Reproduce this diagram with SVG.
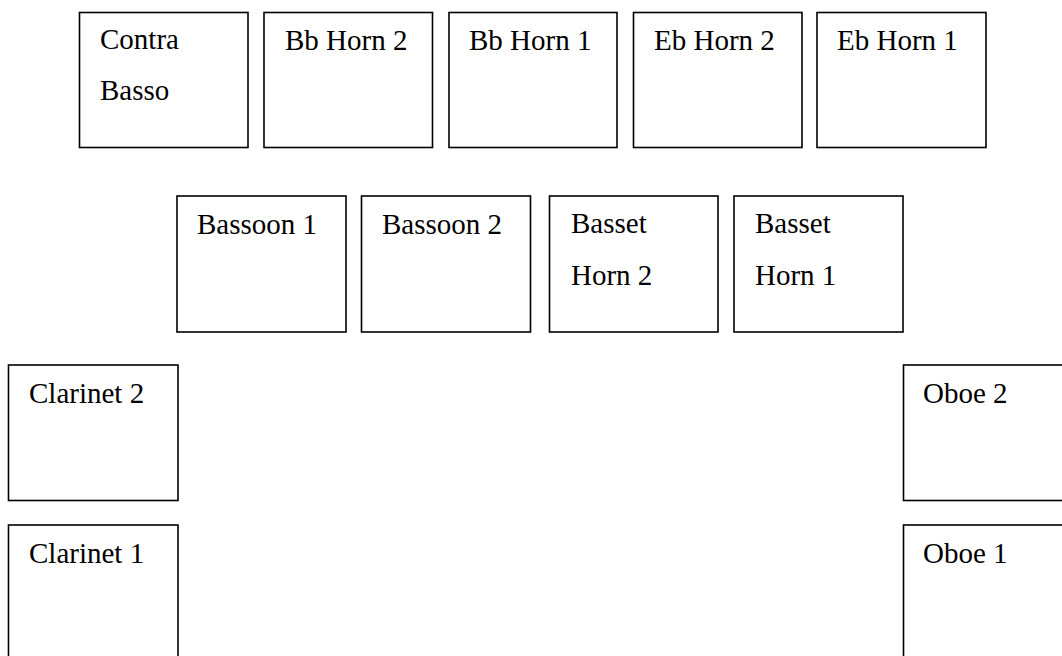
<svg xmlns="http://www.w3.org/2000/svg" width="1062" height="656" viewBox="0 0 1062 656">
<style>
.box{fill:#fff;stroke:#000;stroke-width:1.6}
.t{font-family:"Liberation Serif","Times New Roman",serif;font-size:29px;fill:#000}
</style>
<rect width="1062" height="656" fill="#fff"/>
<g id="contra-basso"><rect class="box" x="79.5" y="12.5" width="168.5" height="135"/><text class="t" x="100" y="49">Contra</text><text class="t" x="100" y="100">Basso</text></g>
<g id="bb-horn-2"><rect class="box" x="264" y="12.5" width="168.5" height="135"/><text class="t" x="285" y="50">Bb Horn 2</text></g>
<g id="bb-horn-1"><rect class="box" x="449" y="12.5" width="168" height="135"/><text class="t" x="469" y="50">Bb Horn 1</text></g>
<g id="eb-horn-2"><rect class="box" x="633.5" y="12.5" width="168.5" height="135"/><text class="t" x="654" y="50">Eb Horn 2</text></g>
<g id="eb-horn-1"><rect class="box" x="817" y="12.5" width="169" height="135"/><text class="t" x="837" y="50">Eb Horn 1</text></g>
<g id="bassoon-1"><rect class="box" x="177" y="196" width="169" height="136"/><text class="t" x="197" y="234">Bassoon 1</text></g>
<g id="bassoon-2"><rect class="box" x="361.5" y="196" width="169" height="136"/><text class="t" x="382" y="234">Bassoon 2</text></g>
<g id="basset-horn-2"><rect class="box" x="549.5" y="196" width="168.5" height="136"/><text class="t" x="571" y="233">Basset</text><text class="t" x="571" y="285">Horn 2</text></g>
<g id="basset-horn-1"><rect class="box" x="734" y="196" width="169" height="136"/><text class="t" x="755" y="233">Basset</text><text class="t" x="755" y="285">Horn 1</text></g>
<g id="clarinet-2"><rect class="box" x="8.5" y="365" width="169.5" height="135.5"/><text class="t" x="29" y="403">Clarinet 2</text></g>
<g id="clarinet-1"><rect class="box" x="8.5" y="525" width="169.5" height="160"/><text class="t" x="29" y="563">Clarinet 1</text></g>
<g id="oboe-2"><rect class="box" x="903.5" y="365" width="180" height="135.5"/><text class="t" x="923" y="403">Oboe 2</text></g>
<g id="oboe-1"><rect class="box" x="903.5" y="525" width="180" height="160"/><text class="t" x="923" y="563">Oboe 1</text></g>
<g id="connectors"/>
</svg>
